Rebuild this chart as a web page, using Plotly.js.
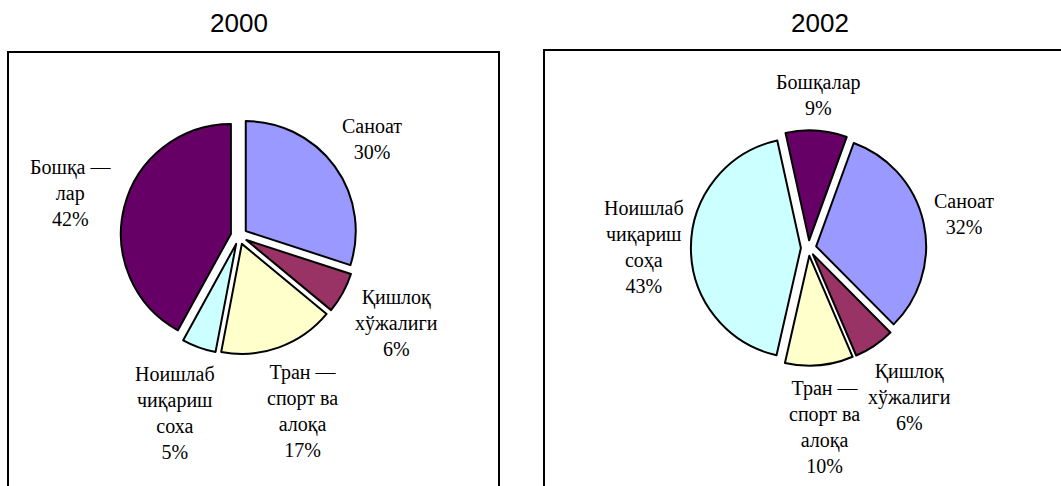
<!DOCTYPE html>
<html>
<head>
<meta charset="utf-8">
<script src="https://cdn.plot.ly/plotly-3.0.1.min.js"></script>
<style>html,body{margin:0;padding:0;background:#fff;}#chart{width:1061px;height:486px;}</style>
</head>
<body>
<div id="chart"></div>
<script>
// ---- data ----
const years = ['2000', '2002'];
const labels2000 = ['Саноат', 'Қишлоқ<br>хўжалиги', 'Тран —<br>спорт ва<br>алоқа', 'Ноишлаб<br>чиқариш<br>соха', 'Бошқа —<br>лар'];
const values2000 = [30, 6, 17, 5, 42];
const labels2002 = ['Саноат', 'Қишлоқ<br>хўжалиги', 'Тран —<br>спорт ва<br>алоқа', 'Ноишлаб<br>чиқариш<br>соҳа', 'Бошқалар'];
const values2002 = [32, 6, 10, 43, 9];
const sliceColors = ['#9999FF', '#993366', '#FFFFCC', '#CCFFFF', '#660066'];

// ---- layout constants ----
const W = 1061, H = 486;
const FONT_SIZE = 20, LINE_H = 1.3 * FONT_SIZE, LABEL_GAP = 7;
const serif = 'Liberation Serif, Times New Roman, serif';
const pies = [
  {labels: labels2000, values: values2000, cx: 239, cy: 236, r: 110, pull: 0.076, rotation: 0},
  {labels: labels2002, values: values2002, cx: 808.6, cy: 248, r: 110, pull: 0.07, rotation: 20}
];

const ctx = document.createElement('canvas').getContext('2d');
ctx.font = FONT_SIZE + 'px "Liberation Serif"';

const data = [];
const annotations = [];

pies.forEach(p => {
  const half = p.r * (1 + p.pull);
  data.push({
    type: 'pie',
    labels: p.labels,
    values: p.values,
    sort: false,
    direction: 'clockwise',
    rotation: p.rotation,
    pull: p.values.map(() => p.pull),
    marker: {colors: sliceColors, line: {color: '#000', width: 2}},
    textinfo: 'none',
    domain: {x: [(p.cx - half) / W, (p.cx + half) / W], y: [1 - (p.cy + half) / H, 1 - (p.cy - half) / H]},
    showlegend: false,
    hoverinfo: 'label+percent'
  });
  // labels placed outside each slice along its mid angle
  const total = p.values.reduce((a, b) => a + b, 0);
  let cum = 0;
  p.values.forEach((v, i) => {
    const mid = (p.rotation + 360 * (cum + v / 2) / total) * Math.PI / 180;
    cum += v;
    const pct = Math.round(100 * v / total) + '%';
    const lines = p.labels[i].split('<br>').concat([pct]);
    const w = Math.max(...lines.map(s => ctx.measureText(s).width));
    const h = lines.length * LINE_H;
    const ux = Math.sin(mid), uy = -Math.cos(mid);
    const ext = Math.abs(ux) * w / 2 + Math.abs(uy) * h / 2;
    const d = half + LABEL_GAP + ext;
    annotations.push({
      text: lines.join('<br>'),
      xref: 'paper', yref: 'paper',
      x: (p.cx + d * ux) / W, y: 1 - (p.cy + d * uy) / H,
      xanchor: 'center', yanchor: 'middle', align: 'center',
      showarrow: false,
      font: {family: serif, size: FONT_SIZE, color: '#000'}
    });
  });
});

years.forEach((y, i) => {
  annotations.push({
    text: y, xref: 'paper', yref: 'paper', x: [238.5, 820][i] / W, y: 1 - 23 / H,
    xanchor: 'center', yanchor: 'middle', showarrow: false,
    font: {family: 'Liberation Sans, Arial, sans-serif', size: 26, color: '#000'}
  });
});

const layout = {
  width: W, height: H,
  margin: {l: 0, r: 0, t: 0, b: 0},
  paper_bgcolor: '#fff',
  plot_bgcolor: '#fff',
  showlegend: false,
  shapes: [
    {type: 'rect', xref: 'paper', yref: 'paper', x0: 8 / W, x1: 499 / W, y0: -0.05, y1: 1 - 52 / H, line: {color: '#000', width: 2}},
    {type: 'rect', xref: 'paper', yref: 'paper', x0: 544 / W, x1: 1.05, y0: -0.05, y1: 1 - 50 / H, line: {color: '#000', width: 2}}
  ],
  annotations: annotations
};

Plotly.newPlot('chart', data, layout, {displayModeBar: false, staticPlot: true});
</script>
</body>
</html>
